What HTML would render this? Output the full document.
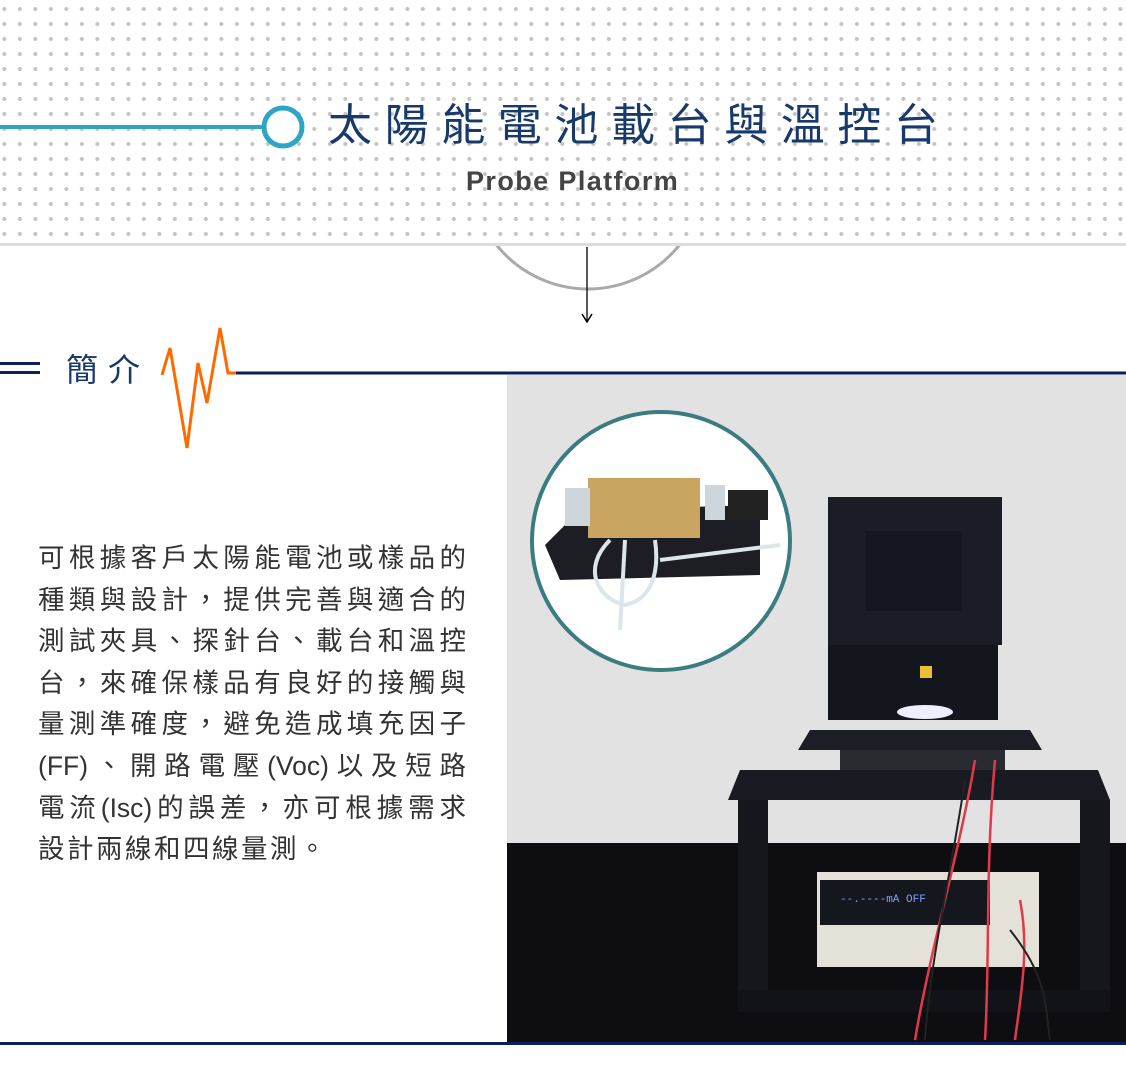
<!DOCTYPE html>
<html><head><meta charset="utf-8"><style>
body{margin:0;width:1126px;height:1083px;position:relative;overflow:hidden;background:#fff;font-family:"Liberation Sans","Noto Sans CJK TC",sans-serif}
.dots{position:absolute;left:0;top:0;width:1126px;height:243px;background-image:radial-gradient(circle,#c4c4c4 1.8px,transparent 2.3px);background-size:15.5px 15px;background-position:-3.4px 1.5px}
.p{position:absolute;left:38px;top:538px;width:428px;font-size:26.5px;color:#333;line-height:41.6px}
.p div{text-align:justify;text-align-last:justify;white-space:nowrap}
.p div.l{text-align-last:left}
</style></head><body>
<div class="dots"></div>
<div style="position:absolute;left:0;top:243px;width:1126px;height:3px;background:#ddd"></div>
<svg width="1126" height="1083" style="position:absolute;left:0;top:0">
<defs><clipPath id="c"><rect x="0" y="246" width="1126" height="200"/></clipPath></defs>
<line x1="0" y1="127" x2="264" y2="127" stroke="#2fa5c6" stroke-width="4"/>
<circle cx="283" cy="127" r="19" fill="#fff" stroke="#2fa5c6" stroke-width="5"/>
<circle cx="588" cy="172" r="117" fill="none" stroke="#aaa" stroke-width="3" clip-path="url(#c)"/>
<line x1="587" y1="247" x2="587" y2="321" stroke="#000" stroke-width="1.3"/>
<path d="M582 314 L587 322 L592 314" fill="none" stroke="#000" stroke-width="1.5"/>
<rect x="0" y="362" width="40" height="3" fill="#0a1f5c"/>
<rect x="0" y="371" width="40" height="3" fill="#0a1f5c"/>
<line x1="228" y1="373" x2="1126" y2="373" stroke="#0a1f5c" stroke-width="3"/>
<polyline points="162,375 170,348 187,448 198,363 207,403 220,328 228,373 236,373" fill="none" stroke="#ff6a00" stroke-width="3"/>
<rect x="0" y="1042" width="1126" height="3" fill="#0a1f5c"/>
<rect x="507" y="375" width="619" height="667" fill="#e2e2e2"/>
<rect x="507" y="843" width="619" height="199" fill="#0e0e12"/>
<circle cx="661" cy="541" r="129" fill="#fff" stroke="#3a7c80" stroke-width="4"/>
<polygon points="545,545 580,510 760,505 760,575 560,580" fill="#1c1e24"/>
<rect x="588" y="478" width="112" height="60" fill="#c9a561" transform="skew(-6 0)"/>
<rect x="565" y="488" width="25" height="38" fill="#cfd6db"/>
<rect x="705" y="485" width="20" height="35" fill="#cfd6db"/>
<rect x="728" y="490" width="40" height="30" fill="#222"/>
<path d="M610 540 C580 570 600 600 625 605 C650 600 660 575 655 540" fill="none" stroke="#dce6ea" stroke-width="4"/>
<path d="M660 560 L780 545" stroke="#dce6ea" stroke-width="4"/>
<path d="M625 540 L620 630" stroke="#dce6ea" stroke-width="4"/>
<rect x="828" y="497" width="174" height="148" fill="#1a1c26"/>
<rect x="866" y="531" width="96" height="80" fill="#151720"/>
<rect x="828" y="645" width="170" height="75" fill="#14161e"/>
<ellipse cx="925" cy="712" rx="28" ry="7" fill="#eef0ff"/>
<rect x="920" y="666" width="12" height="12" fill="#e8c030"/>
<polygon points="810,730 1030,730 1042,750 798,750" fill="#1c1e26"/>
<rect x="840" y="750" width="165" height="40" fill="#2a2b30"/>
<polygon points="740,770 1098,770 1110,800 728,800" fill="#1a1b22"/>
<rect x="738" y="800" width="30" height="210" fill="#16171c"/>
<rect x="1080" y="800" width="30" height="210" fill="#16171c"/>
<rect x="738" y="990" width="372" height="22" fill="#121318"/>
<rect x="817" y="872" width="222" height="95" fill="#e4e2d8"/>
<rect x="820" y="880" width="170" height="45" fill="#15171e"/>
<text x="840" y="902" font-family="Liberation Mono" font-size="11" fill="#7fa0ff">--.----mA    OFF</text>
<path d="M975 760 C960 850 930 950 915 1040 M995 760 C985 870 990 960 985 1040 M1020 900 C1030 950 1020 1000 1015 1040" fill="none" stroke="#e03a4a" stroke-width="2.5"/>
<path d="M965 780 C950 880 930 960 925 1040 M1010 930 C1050 980 1045 1010 1050 1040" fill="none" stroke="#222" stroke-width="2"/>
</svg>
<div style="position:absolute;left:328px;top:98px;font-size:44px;letter-spacing:12.6px;color:#173a6a;white-space:nowrap;line-height:56px">太陽能電池載台與溫控台</div>
<div style="position:absolute;left:466px;top:165px;font-size:27px;font-weight:bold;color:#444;white-space:nowrap;line-height:32px;letter-spacing:1.4px">Probe Platform</div>
<div style="position:absolute;left:66px;top:350px;font-size:32px;letter-spacing:10px;color:#173a6a;white-space:nowrap;line-height:40px">簡介</div>
<div class="p">
<div>可根據客戶太陽能電池或樣品的</div>
<div>種類與設計，提供完善與適合的</div>
<div>測試夾具、探針台、載台和溫控</div>
<div>台，來確保樣品有良好的接觸與</div>
<div>量測準確度，避免造成填充因子</div>
<div>(FF)、開路電壓(Voc)以及短路</div>
<div>電流(Isc)的誤差，亦可根據需求</div>
<div class="l" style="letter-spacing:2.5px">設計兩線和四線量測。</div>
</div>
</body></html>
